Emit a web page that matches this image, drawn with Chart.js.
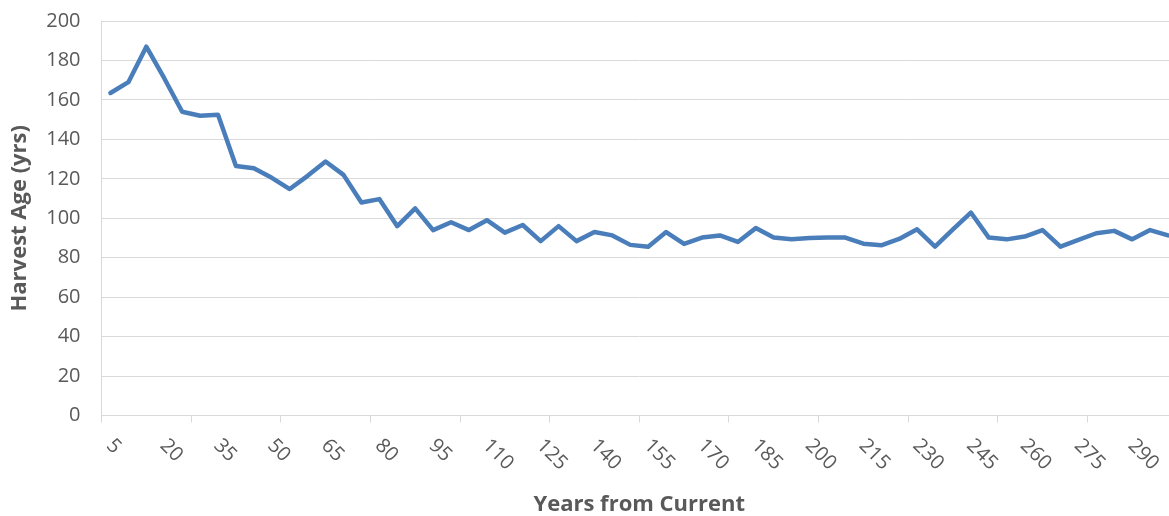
<!DOCTYPE html>
<html>
<head>
<meta charset="utf-8">
<script src="https://cdn.jsdelivr.net/npm/chart.js@4/dist/chart.umd.min.js"></script>
<style>
  html, body { margin: 0; padding: 0; overflow: hidden; background: #fff; }
</style>
</head>
<body>
<canvas id="harvest-plot" width="1180" height="516"></canvas>
<script>
let years = [5, 10, 15, 20, 25, 30, 35, 40, 45, 50, 55, 60, 65, 70, 75, 80, 85, 90, 95, 100,
    105, 110, 115, 120, 125, 130, 135, 140, 145, 150, 155, 160, 165, 170, 175, 180, 185, 190, 195, 200,
    205, 210, 215, 220, 225, 230, 235, 240, 245, 250, 255, 260, 265, 270, 275, 280, 285, 290, 295, 300]

let harvest_age = [163.5, 169, 187, 171, 154, 152, 152.5, 126.5, 125.3, 120.5, 114.8, 121.5, 128.8, 122, 108, 109.7, 96, 105, 94, 98,
    94, 99, 92.7, 96.6, 88.4, 96, 88.4, 93, 91.3, 86.5, 85.5, 93, 87, 90.2, 91.3, 88, 95, 90.2, 89.3, 90,
    90.2, 90.2, 87.1, 86.3, 89.5, 94.4, 85.6, 94.3, 102.9, 90.2, 89.3, 90.7, 94, 85.6, 89, 92.4, 93.6, 89.3, 94, 91.3]

let x_tick_labels = ['5', '20', '35', '50', '65', '80', '95', '110', '125', '140', '155', '170', '185', '200',
    '215', '230', '245', '260', '275', '290']

let y_min = 0
let y_max = 200
let y_step = 20

let text_grey = '#595959'
let grid_grey = '#d9d9d9'
let line_blue = 'rgb(74,126,187)'
let font_name = 'Open Sans'

// Excel-style labels turned clockwise, drawn from the category scale
let x_label_plugin = {
    id: 'x_labels',
    afterDraw(chart) {
        let ctx = chart.ctx
        let x_scale = chart.scales.x
        ctx.save()
        ctx.font = '20px "' + font_name + '"'
        ctx.fillStyle = text_grey
        ctx.textAlign = 'left'
        ctx.textBaseline = 'middle'
        x_tick_labels.forEach(label => {
            let px = x_scale.getPixelForValue(years.indexOf(parseInt(label)))
            ctx.save()
            ctx.translate(px - 1, x_scale.top + 27)
            ctx.rotate(Math.PI / 4)
            ctx.fillText(label, 0, 0)
            ctx.restore()
        })
        ctx.restore()
    }
}

document.addEventListener("DOMContentLoaded", () => {
    Chart.defaults.font.family = font_name
    Chart.defaults.color = text_grey

    let harvest_ctx = document.getElementById("harvest-plot")
    new Chart(harvest_ctx, {
        type: 'line',
        data: {
            labels: years,
            datasets: [{
                data: harvest_age,
                borderColor: line_blue,
                borderWidth: 4.5,
                pointRadius: 0,
                tension: 0,
                borderJoinStyle: 'round',
                borderCapStyle: 'round',
                clip: false
            }]
        },
        options: {
            responsive: false,
            animation: false,
            layout: {padding: {top: 21, right: 3, bottom: 0, left: 0}},
            plugins: {
                legend: {display: false},
                tooltip: {enabled: false}
            },
            scales: {
                x: {
                    type: 'category',
                    offset: true,
                    afterFit: (scale) => { scale.height = 100.5 },
                    grid: {
                        offset: true,
                        drawOnChartArea: false,
                        drawTicks: true,
                        tickLength: 7,
                        color: (c) => c.index % 5 === 0 ? grid_grey : 'rgba(0,0,0,0)'
                    },
                    border: {color: grid_grey},
                    ticks: {display: false, autoSkip: false},
                    title: {
                        display: true,
                        text: 'Years from Current',
                        color: text_grey,
                        font: {size: 22, weight: 'bold', lineHeight: 1},
                        padding: {top: 0, bottom: 0}
                    }
                },
                y: {
                    min: y_min,
                    max: y_max,
                    afterFit: (scale) => { scale.width = 101.5 },
                    // invisible tick marks give the gap between labels and axis
                    grid: {color: grid_grey, drawTicks: true, tickLength: 21, tickColor: 'rgba(0,0,0,0)'},
                    border: {color: grid_grey},
                    ticks: {
                        stepSize: y_step,
                        padding: 0,
                        color: text_grey,
                        font: {size: 20}
                    },
                    title: {
                        display: true,
                        text: 'Harvest Age (yrs)',
                        color: text_grey,
                        font: {size: 22, weight: 'bold', lineHeight: 1.2},
                        padding: {top: 7, bottom: 0}
                    }
                }
            }
        },
        plugins: [x_label_plugin]
    })
})
</script>
</body>
</html>
